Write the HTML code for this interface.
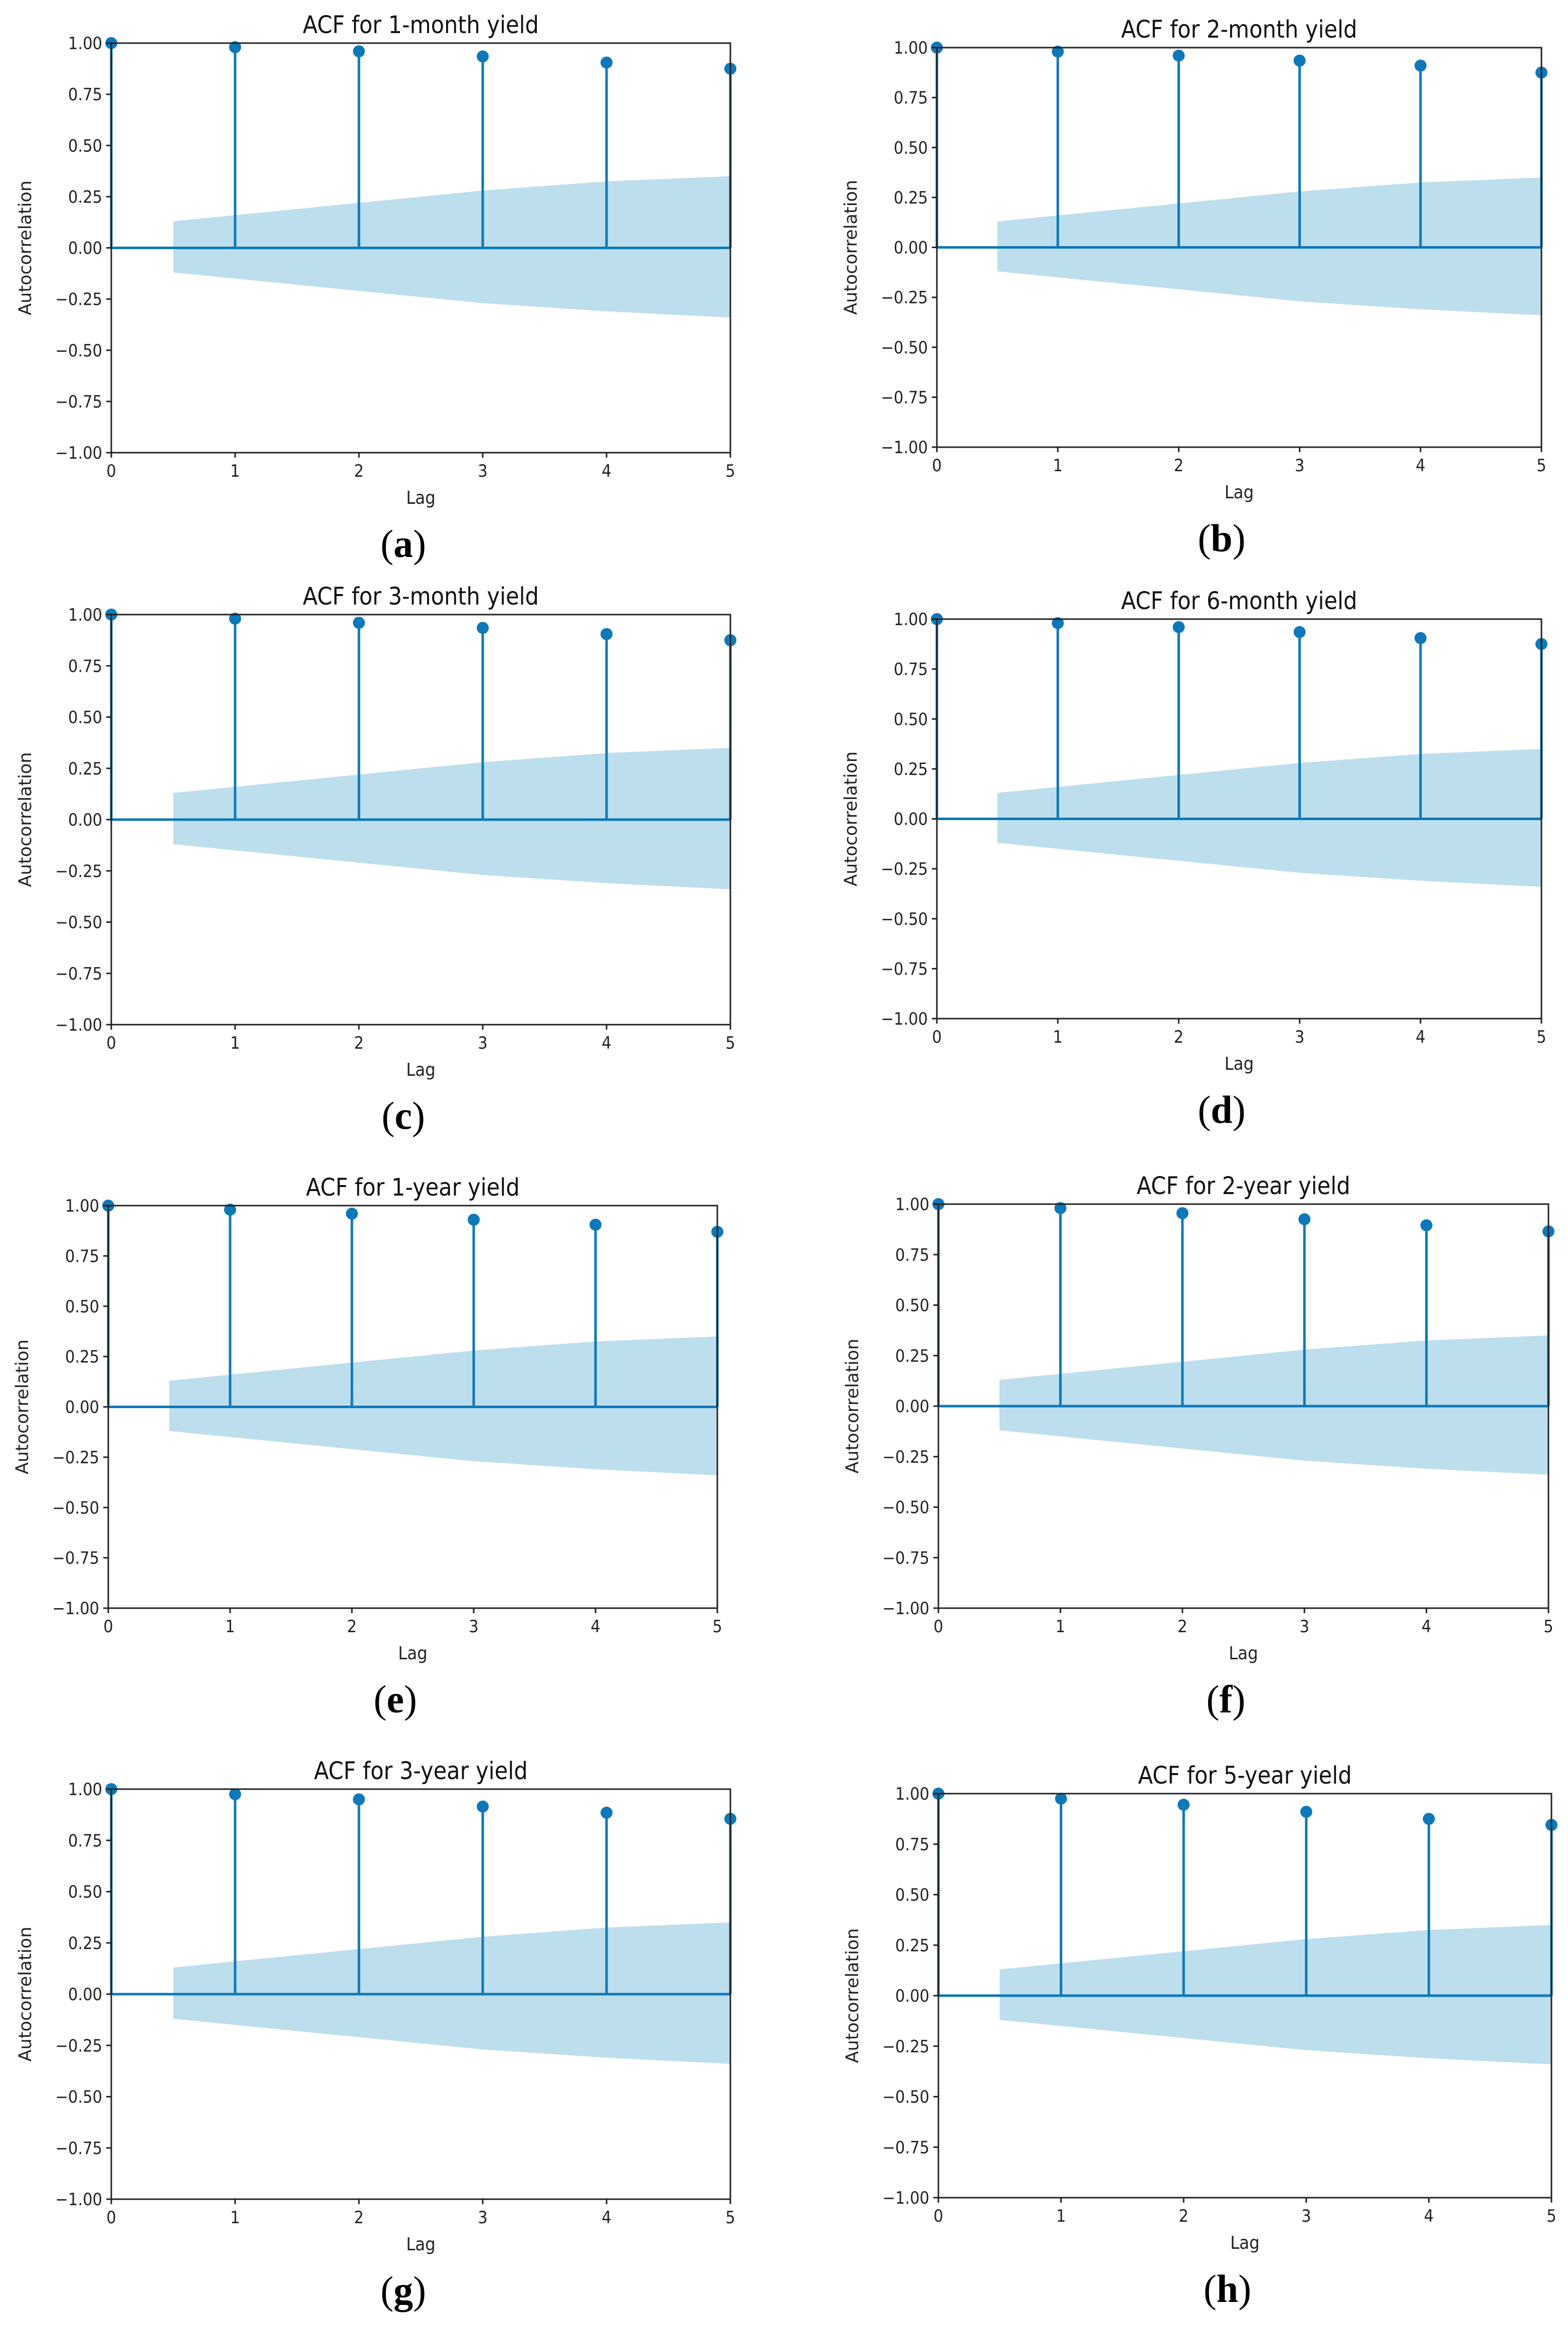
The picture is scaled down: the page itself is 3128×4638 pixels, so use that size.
<!DOCTYPE html>
<html><head><meta charset="utf-8"><style>
html,body{margin:0;padding:0;background:#fff;}
svg{display:block;}
</style></head><body>
<svg id="fig" width="3128" height="4638" viewBox="0 0 3128 4638" xmlns="http://www.w3.org/2000/svg"></svg>
<script>
const titles = ["ACF for 1-month yield","ACF for 2-month yield","ACF for 3-month yield","ACF for 6-month yield","ACF for 1-year yield","ACF for 2-year yield","ACF for 3-year yield","ACF for 5-year yield"];
const letters = ["a","b","c","d","e","f","g","h"];
const lags = [0,1,2,3,4,5];
const acfA = [1,0.98,0.96,0.935,0.905,0.875];
const acfB = [1,0.98,0.96,0.935,0.91,0.875];
const acfC = [1,0.98,0.96,0.935,0.905,0.875];
const acfD = [1,0.98,0.96,0.935,0.905,0.875];
const acfE = [1,0.98,0.96,0.93,0.905,0.87];
const acfF = [1,0.98,0.955,0.925,0.895,0.865];
const acfG = [1,0.975,0.95,0.915,0.885,0.855];
const acfH = [1,0.975,0.945,0.91,0.875,0.845];
const bandLags = [0.5,1,2,3,4,5];
const bandUpper = [0.13,0.16,0.22,0.28,0.325,0.35];
const bandLower = [-0.12,-0.15,-0.21,-0.27,-0.31,-0.34];
const yTicks = [1,0.75,0.5,0.25,0,-0.25,-0.5,-0.75,-1];
const yTickLabels = ["1.00","0.75","0.50","0.25","0.00","\u22120.25","\u22120.50","\u22120.75","\u22121.00"];
const xTickLabels = ["0","1","2","3","4","5"];
const allAcf = [acfA,acfB,acfC,acfD,acfE,acfF,acfG,acfH];
const frames = [
 [222,1457,86,903],[1869,3075,95,892],
 [222,1457,1226,2044],[1869,3075,1235,2032],
 [216,1431,2405,3208],[1872,3089,2402,3208],
 [222,1457,3569,4387],[1872,3095,3578,4384]];
const NS="http://www.w3.org/2000/svg";
const svg=document.getElementById('fig');
const BLUE="#0e78b8", BAND="#bddeed";
function mk(tag,attrs,parent){const e=document.createElementNS(NS,tag);for(const k in attrs)e.setAttribute(k,attrs[k]);parent.appendChild(e);return e;}
frames.forEach((f,i)=>{
  const [x0,x1,y0,y1]=f;
  const g=mk('g',{},svg);
  
  
  const xs=v=>x0+(v-0)/(5-0)*(x1-x0);
  const ys=v=>y0+(1-v)/2*(y1-y0);
  let d="M"+xs(bandLags[0])+","+ys(bandUpper[0]);
  for(let k=1;k<bandLags.length;k++)d+=" L"+xs(bandLags[k])+","+ys(bandUpper[k]);
  for(let k=bandLags.length-1;k>=0;k--)d+=" L"+xs(bandLags[k])+","+ys(bandLower[k]);
  d+="Z";
  const band=mk('path',{d:d,fill:BAND},g);
  
  
  const zl=mk('line',{x1:x0,x2:x1,y1:ys(0),y2:ys(0),stroke:BLUE,'stroke-width':5},g);
  
  
  const vals=allAcf[i];
  lags.forEach((l,k)=>{
    const st=mk('line',{x1:xs(l),x2:xs(l),y1:ys(0),y2:ys(vals[k]),stroke:BLUE,'stroke-width':5},g);
    
    
    const c=mk('circle',{cx:xs(l),cy:ys(vals[k]),r:12,fill:BLUE},g);
    
    
  });
  const fr=mk('rect',{x:x0,y:y0,width:x1-x0,height:y1-y0,fill:'none',stroke:'#222','stroke-width':3},g);
  
  
  yTicks.forEach((v,k)=>{
    mk('line',{x1:x0-10,x2:x0,y1:ys(v),y2:ys(v),stroke:'#222','stroke-width':3},g);
    const t=mk('text',{x:x0-18,y:ys(v)+12,'text-anchor':'end','font-size':34,'font-family':'DejaVu Sans Condensed, DejaVu Sans, sans-serif',fill:'#222'},g);
    t.textContent=yTickLabels[k];
    
    
  });
  lags.forEach((l,k)=>{
    mk('line',{x1:xs(l),x2:xs(l),y1:y1,y2:y1+10,stroke:'#222','stroke-width':3},g);
    const t=mk('text',{x:xs(l),y:y1+48,'text-anchor':'middle','font-size':34,'font-family':'DejaVu Sans Condensed, DejaVu Sans, sans-serif',fill:'#222'},g);
    t.textContent=xTickLabels[k];
    
    
  });
  const cx=(x0+x1)/2, cy=(y0+y1)/2;
  const tt=mk('text',{x:cx,y:y0-20,'text-anchor':'middle','font-size':48,'font-family':'DejaVu Sans Condensed, DejaVu Sans, sans-serif',fill:'#111'},g);
  tt.textContent=titles[i];
  
  
  const xl=mk('text',{x:cx,y:y1+102,'text-anchor':'middle','font-size':36,'font-family':'DejaVu Sans Condensed, DejaVu Sans, sans-serif',fill:'#222'},g);
  xl.textContent="Lag";
  
  
  const yl=mk('text',{x:0,y:0,transform:'translate('+(x0-160)+','+cy+') rotate(-90)','text-anchor':'middle','font-size':35,'font-family':'DejaVu Sans, sans-serif',fill:'#222'},g);
  yl.textContent="Autocorrelation";
  
  
  const lt=mk('text',{x:cx-35,y:y1+208,'text-anchor':'middle','font-size':78,'font-family':'Liberation Serif, serif',fill:'#000'},g);
  lt.innerHTML='(<tspan font-weight="bold">'+letters[i]+'</tspan>)';
  
  
});
</script>
</body></html>
